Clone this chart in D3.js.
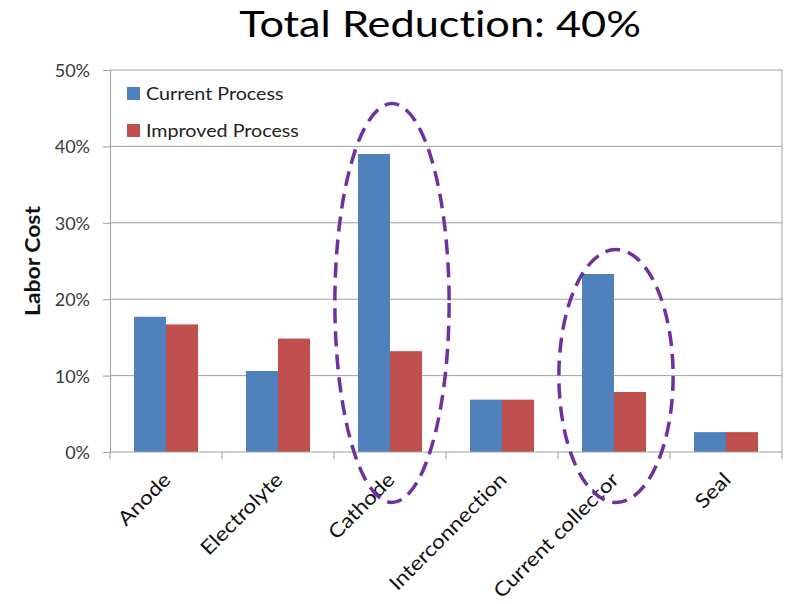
<!DOCTYPE html>
<html>
<head>
<meta charset="utf-8">
<script src="https://cdn.jsdelivr.net/npm/d3@7"></script>
<style>
  html, body { margin: 0; padding: 0; background: #fff; }
  svg { display: block; font-family: Lato, "Open Sans", sans-serif; font-variant-ligatures: none; }
</style>
</head>
<body>
<svg id="chart" width="786" height="604"></svg>
<script>
// Labor cost share by cell component, before and after process changes
const categories = ["Anode", "Electrolyte", "Cathode", "Interconnection", "Current collector", "Seal"];
const seriesNames = ["Current Process", "Improved Process"];
const currentProcess = [17.7, 10.6, 39.0, 6.85, 23.3, 2.6];
const improvedProcess = [16.7, 14.85, 13.2, 6.85, 7.85, 2.6];
const yTicks = [0, 10, 20, 30, 40, 50];
const chartTitle = "Total Reduction: 40%";
const yTitle = "Labor Cost";
// Highlighted categories, with the value span each dashed ring covers
const highlights = [
  { category: "Cathode", low: -6.6, high: 45.6 },
  { category: "Current collector", low: -6.6, high: 26.5 }
];

const colors = ["#4F81BD", "#C0504D"];
const ringColor = "#7030A0";
const axisGrey = "#a0a0a0";
const wide = 1.14; // horizontal widening so Lato sets like Calibri

const svg = d3.select("#chart");
const margin = { left: 110, right: 4, top: 70, bottom: 152 };
const W = 786, H = 604;

const x = d3.scaleBand().domain(categories)
  .range([margin.left, W - margin.right]).paddingInner(0).paddingOuter(0);
const barW = x.bandwidth() / 3.5;  // 150% gap between clusters
const xs = d3.scaleBand().domain(seriesNames).range([0, barW * 2]);
const y = d3.scaleLinear().domain([0, 50]).range([H - margin.bottom, margin.top]);

// Gridlines
svg.append("g")
  .selectAll("line").data(yTicks.filter(d => d > 0)).join("line")
  .attr("x1", margin.left).attr("x2", W - margin.right)
  .attr("y1", d => y(d)).attr("y2", d => y(d))
  .attr("stroke", axisGrey).attr("stroke-width", 1);

// Right border of plot area
svg.append("line")
  .attr("x1", W - margin.right).attr("x2", W - margin.right)
  .attr("y1", y(50)).attr("y2", y(0))
  .attr("stroke", axisGrey);

// Bars
const rows = categories.map((c, i) => ({ c, vals: [currentProcess[i], improvedProcess[i]] }));
const groups = svg.append("g").selectAll("g").data(rows).join("g")
  .attr("transform", d => `translate(${x(d.c) + (x.bandwidth() - barW * 2) / 2},0)`);
groups.selectAll("rect").data(d => d.vals.map((v, k) => ({ v, k }))).join("rect")
  .attr("x", d => xs(seriesNames[d.k]))
  .attr("width", xs.bandwidth())
  .attr("y", d => y(d.v))
  .attr("height", d => y(0) - y(d.v))
  .attr("fill", d => colors[d.k]);

// Y axis
const yAxis = d3.axisLeft(y).tickValues(yTicks).tickFormat(d => d + "%")
  .tickSizeInner(7).tickSizeOuter(0).tickPadding(13);
const gy = svg.append("g").attr("transform", `translate(${margin.left},0)`).call(yAxis);
gy.select(".domain").attr("stroke", axisGrey);
gy.selectAll(".tick line").attr("stroke", axisGrey);
gy.selectAll(".tick text").attr("font-size", 18).attr("fill", "#3a3a3a")
  .attr("font-family", "Lato, sans-serif").attr("dy", "0.36em");

// X axis with boundary ticks
const gx = svg.append("g").attr("transform", `translate(0,${y(0)})`);
gx.append("line").attr("x1", margin.left).attr("x2", W - margin.right)
  .attr("stroke", axisGrey);
const bounds = categories.map(c => x(c)).concat([x(categories[categories.length - 1]) + x.bandwidth()]);
gx.selectAll("line.tk").data(bounds).join("line").attr("class", "tk")
  .attr("x1", d => d).attr("x2", d => d).attr("y1", 0).attr("y2", 7)
  .attr("stroke", axisGrey);
gx.selectAll("text").data(categories).join("text")
  .attr("transform", d => `translate(${x(d) + x.bandwidth() / 2 + 6},29) rotate(-45) scale(${wide},1)`)
  .attr("text-anchor", "end")
  .attr("font-size", 19.8).attr("fill", "#111")
  .text(d => d);

// Axis title
svg.append("text")
  .attr("transform", `translate(40,261) rotate(-90) scale(1.09,1)`)
  .attr("text-anchor", "middle").attr("font-weight", "bold").attr("font-size", 21)
  .attr("fill", "#111").text(yTitle);

// Chart title
svg.append("text").attr("transform", `translate(440,37) scale(1.17,1)`)
  .attr("text-anchor", "middle")
  .attr("font-size", 37).attr("fill", "#000").text(chartTitle);

// Legend
const lg = svg.append("g").attr("transform", "translate(127,87)");
seriesNames.forEach((s, i) => {
  const rowY = i * 37;
  lg.append("rect").attr("x", 0).attr("y", rowY).attr("width", 13).attr("height", 13)
    .attr("fill", colors[i]);
  lg.append("text").attr("transform", `translate(19,${rowY + 13}) scale(1.12,1)`)
    .attr("font-size", 17.6).attr("fill", "#222").text(s);
});

// Dashed rings around the categories with the biggest cuts
svg.append("g").selectAll("ellipse").data(highlights).join("ellipse")
  .attr("cx", d => x(d.category) + x.bandwidth() / 2 + 2)
  .attr("cy", d => (y(d.low) + y(d.high)) / 2)
  .attr("rx", x.bandwidth() * 0.51)
  .attr("ry", d => (y(d.low) - y(d.high)) / 2)
  .attr("fill", "none").attr("stroke", ringColor).attr("stroke-width", 3.5)
  .attr("stroke-dasharray", "15 8");
</script>
</body>
</html>
